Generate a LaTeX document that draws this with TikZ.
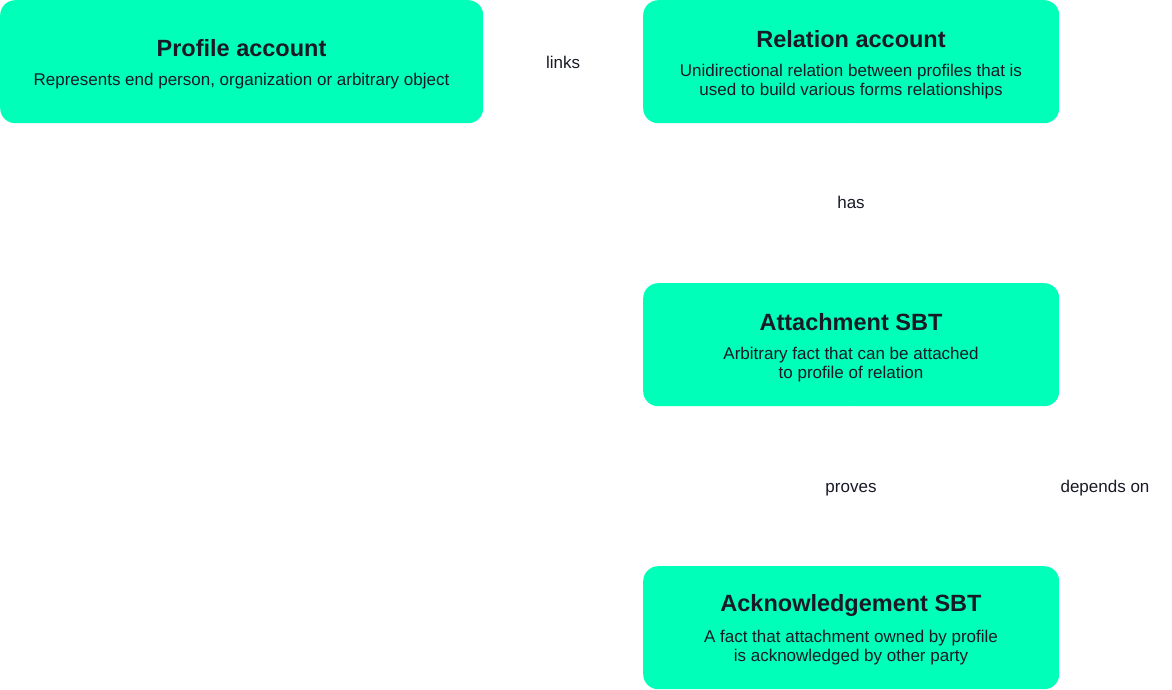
\documentclass[tikz,border=0pt]{standalone}
\usepackage{fontspec}
\setmainfont{Liberation Sans}
\definecolor{boxfill}{RGB}{0,255,185}
\definecolor{ink}{RGB}{24,26,38}
\begin{document}
\begin{tikzpicture}[x=1pt,y=-1pt,
  card/.style={fill=boxfill,draw=none,rounded corners=15pt,minimum height=123pt,anchor=north west,inner sep=0pt},
  ttl/.style={font=\fontsize{23.5}{27}\selectfont\bfseries,text=ink,anchor=center},
  sub/.style={font=\fontsize{17}{19}\selectfont,text=ink,align=center,anchor=center},
  lbl/.style={font=\fontsize{17}{19}\selectfont,text=ink,fill=white,inner sep=2pt},
  link/.style={draw=white,line width=1pt}]
\useasboundingbox (0,0) rectangle (1172,689);
\node[card,minimum width=483pt] (profile) at (0,0) {};
\node[card,minimum width=416pt] (relation) at (643,0) {};
\node[card,minimum width=416pt] (attach) at (643,283) {};
\node[card,minimum width=416pt] (ack) at (643,566) {};
% texts
\node[ttl] (pt) at (241.5,48.5) {Profile account};
\node[sub] (ps) at (241.5,81.5) {Represents end person, organization or arbitrary object};
\node[ttl] (rt) at (851,39.5) {Relation account};
\node[sub] (rs) at (851,82) {Unidirectional relation between profiles that is\\used to build various forms relationships};
\node[ttl] (at) at (851,322.5) {Attachment SBT};
\node[sub] (as) at (851,365) {Arbitrary fact that can be attached\\to profile of relation};
\node[ttl] (kt) at (851,605.5) {Acknowledgement SBT};
\node[sub] (ks) at (851,648) {A fact that attachment owned by profile\\is acknowledged by other party};
% connectors (white, as in reference)
\coordinate (pr) at (483,62.5);
\coordinate (rl) at (643,62.5);
\draw[link] (pr) -- node[lbl] (links) {links} (rl);
\coordinate (rs1) at (851,123);
\coordinate (as1) at (851,283);
\draw[link] (rs1) -- node[lbl,yshift=1pt] (has) {has} (as1);
\coordinate (as2) at (851,406);
\coordinate (ks1) at (851,566);
\draw[link] (as2) -- node[lbl,yshift=-4pt] (proves) {proves} (ks1);
\coordinate (dtop) at (1105,347);
\coordinate (dbot) at (1105,630);
\draw[link] (ack.east) -- (dbot) -- node[lbl] (dep) {depends on} (dtop) -- (attach.east);
\end{tikzpicture}
\end{document}
